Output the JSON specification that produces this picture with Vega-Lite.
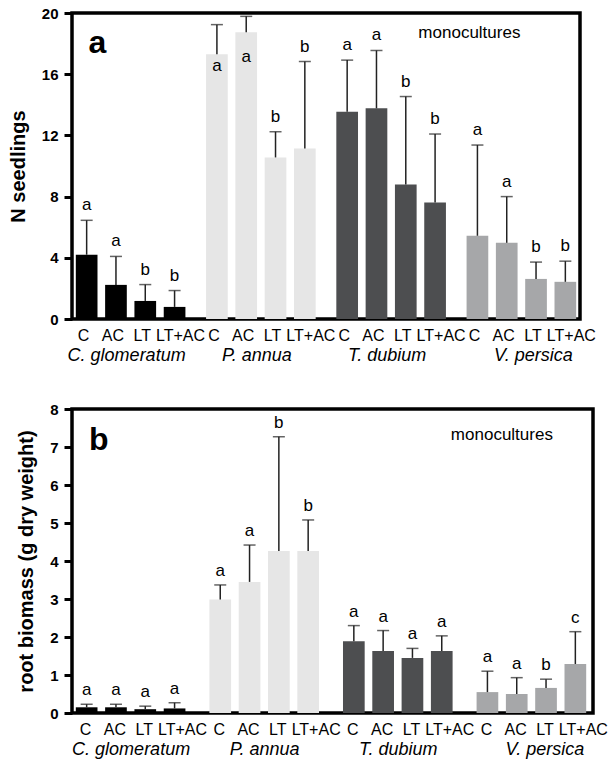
{
  "$schema": "https://vega.github.io/schema/vega-lite/v6.json",
  "padding": {"left": 6, "top": 4, "right": 5, "bottom": 0},
  "spacing": 34,
  "config": {
    "font": "Liberation Sans",
    "view": {"stroke": "black", "strokeWidth": 3.5},
    "axisX": {"domain": false, "ticks": false, "tickSize": 0, "labelPadding": 27, "labelFontStyle": "italic", "labelFontSize": 18, "labelAngle": 0, "labelColor": "black", "title": null, "grid": false},
    "axisY": {"domain": false, "ticks": true, "tickSize": 8, "tickWidth": 3, "tickColor": "black", "labelFontSize": 15, "labelFontWeight": "bold", "labelPadding": 6, "labelColor": "black", "labelFlush": false, "labelOverlap": false, "grid": false, "titleFontSize": 20, "titleFontWeight": "bold", "titlePadding": 13, "titleColor": "black"}
  },
  "datasets": {
    "a": [
      {"species": "C. glomeratum", "trt": "C", "mean": 4.2, "hi": 6.45, "letter": "a"},
      {"species": "C. glomeratum", "trt": "AC", "mean": 2.23, "hi": 4.09, "letter": "a"},
      {"species": "C. glomeratum", "trt": "LT", "mean": 1.18, "hi": 2.25, "letter": "b"},
      {"species": "C. glomeratum", "trt": "LT+AC", "mean": 0.79, "hi": 1.86, "letter": "b"},
      {"species": "P. annua", "trt": "C", "mean": 17.31, "hi": 19.24, "letter": "a"},
      {"species": "P. annua", "trt": "AC", "mean": 18.75, "hi": 19.78, "letter": "a"},
      {"species": "P. annua", "trt": "LT", "mean": 10.56, "hi": 12.24, "letter": "b"},
      {"species": "P. annua", "trt": "LT+AC", "mean": 11.15, "hi": 16.83, "letter": "b"},
      {"species": "T. dubium", "trt": "C", "mean": 13.55, "hi": 16.92, "letter": "a"},
      {"species": "T. dubium", "trt": "AC", "mean": 13.77, "hi": 17.55, "letter": "a"},
      {"species": "T. dubium", "trt": "LT", "mean": 8.79, "hi": 14.54, "letter": "b"},
      {"species": "T. dubium", "trt": "LT+AC", "mean": 7.61, "hi": 12.09, "letter": "b"},
      {"species": "V. persica", "trt": "C", "mean": 5.44, "hi": 11.37, "letter": "a"},
      {"species": "V. persica", "trt": "AC", "mean": 4.98, "hi": 8.0, "letter": "a"},
      {"species": "V. persica", "trt": "LT", "mean": 2.62, "hi": 3.72, "letter": "b"},
      {"species": "V. persica", "trt": "LT+AC", "mean": 2.43, "hi": 3.78, "letter": "b"}
    ],
    "b": [
      {"species": "C. glomeratum", "trt": "C", "mean": 0.15, "hi": 0.23, "letter": "a"},
      {"species": "C. glomeratum", "trt": "AC", "mean": 0.15, "hi": 0.23, "letter": "a"},
      {"species": "C. glomeratum", "trt": "LT", "mean": 0.1, "hi": 0.18, "letter": "a"},
      {"species": "C. glomeratum", "trt": "LT+AC", "mean": 0.12, "hi": 0.27, "letter": "a"},
      {"species": "P. annua", "trt": "C", "mean": 2.99, "hi": 3.37, "letter": "a"},
      {"species": "P. annua", "trt": "AC", "mean": 3.45, "hi": 4.42, "letter": "a"},
      {"species": "P. annua", "trt": "LT", "mean": 4.26, "hi": 7.27, "letter": "b"},
      {"species": "P. annua", "trt": "LT+AC", "mean": 4.26, "hi": 5.08, "letter": "b"},
      {"species": "T. dubium", "trt": "C", "mean": 1.89, "hi": 2.3, "letter": "a"},
      {"species": "T. dubium", "trt": "AC", "mean": 1.63, "hi": 2.17, "letter": "a"},
      {"species": "T. dubium", "trt": "LT", "mean": 1.45, "hi": 1.7, "letter": "a"},
      {"species": "T. dubium", "trt": "LT+AC", "mean": 1.63, "hi": 2.03, "letter": "a"},
      {"species": "V. persica", "trt": "C", "mean": 0.55, "hi": 1.1, "letter": "a"},
      {"species": "V. persica", "trt": "AC", "mean": 0.5, "hi": 0.93, "letter": "a"},
      {"species": "V. persica", "trt": "LT", "mean": 0.66, "hi": 0.89, "letter": "b"},
      {"species": "V. persica", "trt": "LT+AC", "mean": 1.29, "hi": 2.14, "letter": "c"}
    ],
    "notes": [{"note": "monocultures"}]
  },
  "vconcat": [
    {
      "width": 508,
      "height": 306,
      "data": {"name": "a"},
      "encoding": {
        "x": {"field": "species", "type": "nominal", "sort": ["C. glomeratum", "P. annua", "T. dubium", "V. persica"],
          "scale": {"domain": ["C. glomeratum", "P. annua", "T. dubium", "V. persica"], "paddingInner": 0.1, "paddingOuter": 0},
          "axis": {"labelOffset": {"condition": {"test": "datum.value === 'V. persica'", "value": 12}, "value": -4}}}
      },
      "layer": [
        {
          "mark": {"type": "bar"},
          "encoding": {
            "xOffset": {"field": "trt", "type": "nominal", "sort": ["C", "AC", "LT", "LT+AC"], "scale": {"paddingInner": 0.26, "paddingOuter": 0.13}},
            "y": {"field": "mean", "type": "quantitative", "scale": {"domain": [0, 20], "nice": false}, "axis": {"values": [0, 4, 8, 12, 16, 20], "title": "N seedlings"}},
            "color": {"field": "species", "type": "nominal", "scale": {"domain": ["C. glomeratum", "P. annua", "T. dubium", "V. persica"], "range": ["#000000", "#e6e6e6", "#4d4e50", "#a6a7a9"]}, "legend": null}
          }
        },
        {
          "mark": {"type": "rule", "color": "#222222", "strokeWidth": 1.5},
          "encoding": {
            "xOffset": {"field": "trt", "type": "nominal", "sort": ["C", "AC", "LT", "LT+AC"]},
            "y": {"field": "mean", "type": "quantitative", "axis": {"values": [0, 4, 8, 12, 16, 20], "title": "N seedlings"}},
            "y2": {"field": "hi"}
          }
        },
        {
          "mark": {"type": "tick", "color": "#222222", "thickness": 1.5, "size": 12, "orient": "horizontal"},
          "encoding": {
            "xOffset": {"field": "trt", "type": "nominal", "sort": ["C", "AC", "LT", "LT+AC"]},
            "y": {"field": "hi", "type": "quantitative", "axis": {"values": [0, 4, 8, 12, 16, 20], "title": "N seedlings"}}
          }
        },
        {
          "transform": [{"filter": "datum.hi <= 19"}],
          "mark": {"type": "text", "fontSize": 17, "baseline": "alphabetic", "dy": -10, "color": "black"},
          "encoding": {
            "xOffset": {"field": "trt", "type": "nominal", "sort": ["C", "AC", "LT", "LT+AC"]},
            "y": {"field": "hi", "type": "quantitative", "axis": {"values": [0, 4, 8, 12, 16, 20], "title": "N seedlings"}},
            "text": {"field": "letter"}
          }
        },
        {
          "transform": [{"filter": "datum.hi > 19"}],
          "mark": {"type": "text", "fontSize": 17, "baseline": "alphabetic", "dy": 46, "color": "black"},
          "encoding": {
            "xOffset": {"field": "trt", "type": "nominal", "sort": ["C", "AC", "LT", "LT+AC"]},
            "y": {"field": "hi", "type": "quantitative", "axis": {"values": [0, 4, 8, 12, 16, 20], "title": "N seedlings"}},
            "text": {"field": "letter"}
          }
        },
        {
          "transform": [{"filter": "datum.trt !== 'LT+AC'"}],
          "mark": {"type": "text", "fontSize": 16, "baseline": "top", "dy": 9, "dx": -3, "color": "black"},
          "encoding": {
            "xOffset": {"field": "trt", "type": "nominal", "sort": ["C", "AC", "LT", "LT+AC"]},
            "y": {"datum": 0, "type": "quantitative", "axis": {"values": [0, 4, 8, 12, 16, 20], "title": "N seedlings"}},
            "text": {"field": "trt"}
          }
        },
        {
          "transform": [{"filter": "datum.trt === 'LT+AC'"}],
          "mark": {"type": "text", "fontSize": 16, "baseline": "top", "dy": 9, "dx": 6, "color": "black"},
          "encoding": {
            "xOffset": {"field": "trt", "type": "nominal", "sort": ["C", "AC", "LT", "LT+AC"]},
            "y": {"datum": 0, "type": "quantitative", "axis": {"values": [0, 4, 8, 12, 16, 20], "title": "N seedlings"}},
            "text": {"field": "trt"}
          }
        },
        {
          "data": {"name": "notes"},
          "mark": {"type": "text", "fontSize": 17, "baseline": "alphabetic", "align": "center", "dy": 24.5, "dx": -52, "color": "black"},
          "encoding": {
            "x": {"datum": "V. persica", "type": "nominal"},
            "y": {"datum": 20, "type": "quantitative", "axis": {"values": [0, 4, 8, 12, 16, 20], "title": "N seedlings"}},
            "text": {"field": "note"}
          }
        },
        {
          "data": {"name": "notes"},
          "mark": {"type": "text", "fontSize": 32, "fontWeight": "bold", "baseline": "alphabetic", "align": "left", "dy": 39.5, "dx": -42, "color": "black", "text": "a"},
          "encoding": {
            "x": {"datum": "C. glomeratum", "type": "nominal"},
            "y": {"datum": 20, "type": "quantitative", "axis": {"values": [0, 4, 8, 12, 16, 20], "title": "N seedlings"}}
          }
        }
      ]
    },
    {
      "width": 521,
      "height": 304,
      "data": {"name": "b"},
      "encoding": {
        "x": {"field": "species", "type": "nominal", "sort": ["C. glomeratum", "P. annua", "T. dubium", "V. persica"],
          "scale": {"domain": ["C. glomeratum", "P. annua", "T. dubium", "V. persica"], "paddingInner": 0.1, "paddingOuter": 0},
          "axis": {"labelOffset": {"condition": {"test": "datum.value === 'V. persica'", "value": 12}, "value": -1}}}
      },
      "layer": [
        {
          "mark": {"type": "bar"},
          "encoding": {
            "xOffset": {"field": "trt", "type": "nominal", "sort": ["C", "AC", "LT", "LT+AC"], "scale": {"paddingInner": 0.23, "paddingOuter": 0.115}},
            "y": {"field": "mean", "type": "quantitative", "scale": {"domain": [0, 8], "nice": false}, "axis": {"values": [0, 1, 2, 3, 4, 5, 6, 7, 8], "title": "root biomass (g dry weight)"}},
            "color": {"field": "species", "type": "nominal", "scale": {"domain": ["C. glomeratum", "P. annua", "T. dubium", "V. persica"], "range": ["#000000", "#e6e6e6", "#4d4e50", "#a6a7a9"]}, "legend": null}
          }
        },
        {
          "mark": {"type": "rule", "color": "#222222", "strokeWidth": 1.5},
          "encoding": {
            "xOffset": {"field": "trt", "type": "nominal", "sort": ["C", "AC", "LT", "LT+AC"]},
            "y": {"field": "mean", "type": "quantitative", "axis": {"values": [0, 1, 2, 3, 4, 5, 6, 7, 8], "title": "root biomass (g dry weight)"}},
            "y2": {"field": "hi"}
          }
        },
        {
          "mark": {"type": "tick", "color": "#222222", "thickness": 1.5, "size": 12, "orient": "horizontal"},
          "encoding": {
            "xOffset": {"field": "trt", "type": "nominal", "sort": ["C", "AC", "LT", "LT+AC"]},
            "y": {"field": "hi", "type": "quantitative", "axis": {"values": [0, 1, 2, 3, 4, 5, 6, 7, 8], "title": "root biomass (g dry weight)"}}
          }
        },
        {
          "mark": {"type": "text", "fontSize": 17, "baseline": "alphabetic", "dy": -9, "color": "black"},
          "encoding": {
            "xOffset": {"field": "trt", "type": "nominal", "sort": ["C", "AC", "LT", "LT+AC"]},
            "y": {"field": "hi", "type": "quantitative", "axis": {"values": [0, 1, 2, 3, 4, 5, 6, 7, 8], "title": "root biomass (g dry weight)"}},
            "text": {"field": "letter"}
          }
        },
        {
          "transform": [{"filter": "datum.trt !== 'LT+AC'"}],
          "mark": {"type": "text", "fontSize": 16, "baseline": "top", "dy": 9, "dx": -1, "color": "black"},
          "encoding": {
            "xOffset": {"field": "trt", "type": "nominal", "sort": ["C", "AC", "LT", "LT+AC"]},
            "y": {"datum": 0, "type": "quantitative", "axis": {"values": [0, 1, 2, 3, 4, 5, 6, 7, 8], "title": "root biomass (g dry weight)"}},
            "text": {"field": "trt"}
          }
        },
        {
          "transform": [{"filter": "datum.trt === 'LT+AC'"}],
          "mark": {"type": "text", "fontSize": 16, "baseline": "top", "dy": 9, "dx": 8, "color": "black"},
          "encoding": {
            "xOffset": {"field": "trt", "type": "nominal", "sort": ["C", "AC", "LT", "LT+AC"]},
            "y": {"datum": 0, "type": "quantitative", "axis": {"values": [0, 1, 2, 3, 4, 5, 6, 7, 8], "title": "root biomass (g dry weight)"}},
            "text": {"field": "trt"}
          }
        },
        {
          "data": {"name": "notes"},
          "mark": {"type": "text", "fontSize": 17, "baseline": "alphabetic", "align": "center", "dy": 31, "dx": -31, "color": "black"},
          "encoding": {
            "x": {"datum": "V. persica", "type": "nominal"},
            "y": {"datum": 8, "type": "quantitative", "axis": {"values": [0, 1, 2, 3, 4, 5, 6, 7, 8], "title": "root biomass (g dry weight)"}},
            "text": {"field": "note"}
          }
        },
        {
          "data": {"name": "notes"},
          "mark": {"type": "text", "fontSize": 32, "fontWeight": "bold", "baseline": "alphabetic", "align": "left", "dy": 41, "dx": -43, "color": "black", "text": "b"},
          "encoding": {
            "x": {"datum": "C. glomeratum", "type": "nominal"},
            "y": {"datum": 8, "type": "quantitative", "axis": {"values": [0, 1, 2, 3, 4, 5, 6, 7, 8], "title": "root biomass (g dry weight)"}}
          }
        }
      ]
    }
  ]
}
